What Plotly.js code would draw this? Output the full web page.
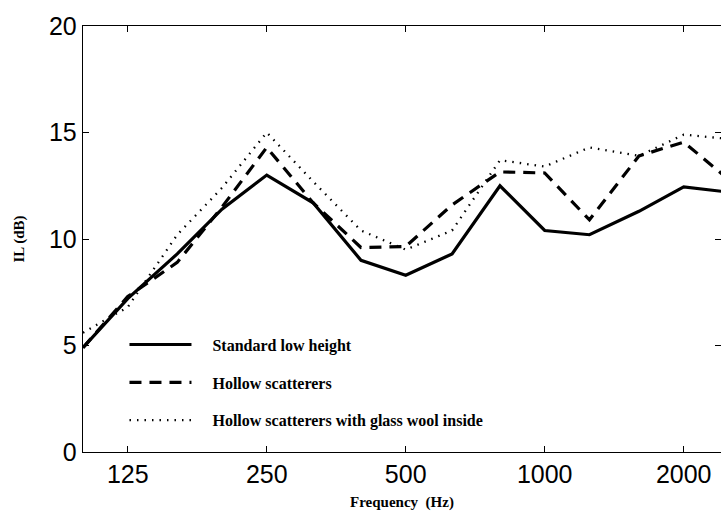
<!DOCTYPE html>
<html>
<head>
<meta charset="utf-8">
<script src="https://cdn.plot.ly/plotly-3.0.1.min.js"></script>
<style>html,body{margin:0;padding:0;background:#fff;}#chart{width:721px;height:511px;}</style>
</head>
<body>
<div id="chart"></div>
<script>
// One-third octave band centre frequencies (Hz)
const freqs = [100, 125, 160, 200, 250, 315, 400, 500, 630, 800, 1000, 1250, 1600, 2000, 2500];
// Insertion loss (dB)
const standardLow = [4.9, 7.2, 9.3, 11.4, 13.0, 11.7, 9.0, 8.3, 9.3, 12.5, 10.4, 10.2, 11.3, 12.45, 12.2];
const hollow      = [4.9, 7.3, 8.9, 11.5, 14.3, 11.7, 9.6, 9.65, 11.6, 13.15, 13.1, 10.9, 13.9, 14.55, 12.8];
const hollowWool  = [5.6, 6.8, 10.2, 12.4, 15.0, 12.7, 10.4, 9.5, 10.4, 13.7, 13.4, 14.3, 13.9, 14.9, 14.7];
const seriesNames = ['Standard low height', 'Hollow scatterers', 'Hollow scatterers with glass wool inside'];
const xTickVals = [125, 250, 500, 1000, 2000];
const xTickText = ['125', '250', '500', '1000', '2000'];
const yTickVals = [0, 5, 10, 15, 20];

const pad = '\u00a0\u00a0\u00a0\u00a0';
const traces = [
  {x: freqs, y: standardLow, name: pad + seriesNames[0], legendgroup: 'a', mode: 'lines',
   line: {color: '#000', width: 3.2}},
  {x: freqs, y: hollow, name: pad + seriesNames[1], legendgroup: 'b', mode: 'lines',
   line: {color: '#000', width: 3.2, dash: '12px,8px'}},
  {x: freqs, y: hollowWool, name: pad + seriesNames[2], legendgroup: 'c', mode: 'lines',
   line: {color: '#000', width: 2.3, dash: '1.5px,6px'}}
];

const layout = {
  width: 721, height: 511,
  margin: {l: 83, r: 0, t: 26, b: 59, pad: 0},
  paper_bgcolor: '#fff', plot_bgcolor: '#fff',
  showlegend: true,
  legend: {
    x: 0.065, y: 0.292, xanchor: 'left', yanchor: 'top',
    bgcolor: 'rgba(0,0,0,0)', borderwidth: 0,
    font: {family: 'Liberation Serif, Times New Roman, serif', size: 16, color: '#000', weight: 'bold'},
    traceorder: 'grouped', tracegroupgap: 14, itemwidth: 62
  },
  xaxis: {
    type: 'log', range: [2, 3.3818],
    tickvals: xTickVals, ticktext: xTickText,
    ticks: 'inside', ticklen: 6, tickwidth: 1, tickcolor: '#000',
    showline: true, linecolor: '#000', linewidth: 1.3, mirror: 'ticks',
    showgrid: false, zeroline: false,
    tickfont: {family: 'Liberation Sans, Arial, sans-serif', size: 25, color: '#000'},
    title: {text: 'Frequency  (Hz)', standoff: 9,
      font: {family: 'Liberation Serif, Times New Roman, serif', size: 15, color: '#000', weight: 'bold'}}
  },
  yaxis: {
    range: [0, 20], tickvals: yTickVals,
    ticks: 'inside', ticklen: 6, tickwidth: 1, tickcolor: '#000',
    showline: true, linecolor: '#000', linewidth: 1.3, mirror: 'ticks',
    showgrid: false, zeroline: false,
    tickfont: {family: 'Liberation Sans, Arial, sans-serif', size: 25, color: '#000'},
    title: {text: 'IL (dB)', standoff: 20,
      font: {family: 'Liberation Serif, Times New Roman, serif', size: 15, color: '#000', weight: 'bold'}}
  }
};

Plotly.newPlot('chart', traces, layout, {displayModeBar: false, staticPlot: true});
</script>
</body>
</html>
